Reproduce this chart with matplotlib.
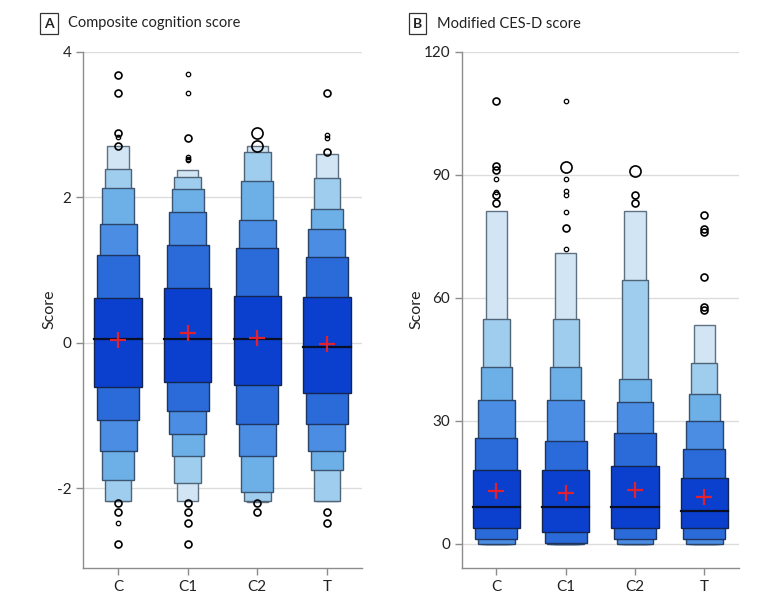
import matplotlib
matplotlib.use("Agg")
import matplotlib.pyplot as plt
from matplotlib.patches import Rectangle

plt.rcParams['font.family'] = ['Lato', 'DejaVu Sans']
plt.rcParams['axes.unicode_minus'] = False

categories = ['C', 'C1', 'C2', 'T']

# Panel A: composite cognition score (letter values, inner -> outer)
cog_upper = [[0.61, 1.20, 1.63, 2.13, 2.39, 2.70],
             [0.76, 1.34, 1.80, 2.11, 2.28, 2.38],
             [0.64, 1.30, 1.69, 2.23, 2.62, 2.70],
             [0.63, 1.18, 1.57, 1.84, 2.26, 2.60]]
cog_lower = [[-0.605, -1.06, -1.48, -1.89, -2.18, -2.18],
             [-0.545, -0.93, -1.255, -1.55, -1.92, -2.18],
             [-0.585, -1.11, -1.56, -2.05, -2.18, -2.19],
             [-0.69, -1.11, -1.48, -1.75, -2.18, -2.18]]
cog_median = [0.047, 0.047, 0.047, -0.063]
cog_mean = [0.04, 0.13, 0.06, -0.02]
cog_outliers = [[3.68, 3.43, 2.88, 2.83, 2.70, -2.20, -2.33, -2.48, -2.76],
                [3.69, 3.43, 2.81, 2.56, 2.53, 2.51, -2.20, -2.33, -2.48, -2.76],
                [2.88, 2.70, -2.20, -2.33],
                [3.43, 2.85, 2.82, 2.62, -2.33, -2.47]]
cog_outlier_counts = [[2, 2, 2, 1, 2, 2, 2, 1, 2],
                      [1, 1, 2, 1, 1, 1, 2, 2, 2, 2],
                      [3, 3, 2, 2],
                      [2, 1, 1, 2, 2, 2]]

# Panel B: modified CES-D score
cesd_upper = [[18.0, 25.9, 35.0, 43.0, 54.9, 81.2],
              [18.0, 25.0, 35.0, 43.0, 54.9, 70.8],
              [18.95, 27.0, 34.6, 40.1, 64.4, 81.2],
              [15.95, 23.0, 30.0, 36.4, 44.2, 53.4]]
cesd_lower = [[3.9, 1.07, 0.0, 0.0, 0.0, 0.0],
              [2.9, 0.15, 0.0, 0.0, 0.0, 0.0],
              [3.9, 1.07, 0.0, 0.0, 0.0, 0.0],
              [3.9, 1.07, 0.0, 0.0, 0.0, 0.0]]
cesd_median = [8.95, 8.95, 8.95, 8.0]
cesd_mean = [12.9, 12.4, 13.1, 11.3]
cesd_outliers = [[108, 92.2, 91.1, 89.0, 85.9, 85.1, 83.0],
                 [108, 92.0, 89.0, 86.1, 85.1, 81.0, 77.0, 72.0],
                 [91.0, 85.0, 83.0],
                 [80.1, 76.8, 76.1, 65.0, 57.8, 57.0]]
cesd_outlier_counts = [[2, 2, 2, 1, 1, 2, 2],
                       [1, 3, 1, 1, 1, 1, 2, 1],
                       [3, 2, 2],
                       [2, 2, 2, 2, 2, 2]]

level_colors = ['#0b40cf', '#2a6bd9', '#4a8de3', '#6cb0e7', '#9ecdee', '#d2e5f4']
edge_colors = ['#14264f', '#1d3560', '#2a4468', '#3d5570', '#506478', '#5f7080']
widths = [0.68, 0.605, 0.53, 0.455, 0.38, 0.305]
size_map = {1: 3.2, 2: 5.0, 3: 8.0}

fig = plt.figure(figsize=(7.8, 6.0), dpi=100)
axA = fig.add_axes([0.1068, 0.0538, 0.3569, 0.86])
axB = fig.add_axes([0.592, 0.0538, 0.3554, 0.86])


def draw(ax, upper, lower, median, mean, outliers, counts, ylim, yticks):
    for i, cat in enumerate(categories):
        for k in range(len(widths) - 1, -1, -1):
            w = widths[k]
            ax.add_patch(Rectangle((i - w / 2, lower[i][k]), w, upper[i][k] - lower[i][k],
                                   facecolor=level_colors[k], edgecolor=edge_colors[k],
                                   lw=1.0, zorder=3))
        w0 = widths[0]
        ax.plot([i - w0 / 2, i + w0 / 2], [median[i], median[i]], color='#0a0f25', lw=1.6, zorder=4)
        ax.plot([i], [mean[i]], marker='+', color='#e3202e', ms=12, mew=1.6, zorder=5)
        for v, c in zip(outliers[i], counts[i]):
            ax.plot([i], [v], marker='o', mfc='none', mec='black', ms=size_map[c],
                    mew=1.2 if c != 1 else 0.9, zorder=5, ls='none')
    ax.set_xlim(-0.5, 3.5)
    ax.set_ylim(*ylim)
    ax.set_xticks(range(len(categories)))
    ax.set_xticklabels(categories)
    ax.set_yticks(yticks)
    ax.set_yticklabels([str(t) for t in yticks])
    ax.yaxis.grid(True, color='#dcdcdc', lw=1.0, zorder=0)
    ax.set_axisbelow(True)
    for s in ['top', 'right']:
        ax.spines[s].set_visible(False)
    for s in ['left', 'bottom']:
        ax.spines[s].set_color('#8c8c8c')
        ax.spines[s].set_linewidth(1.0)
    ax.spines['left'].set_bounds(ylim[0], yticks[-1])
    ax.tick_params(axis='both', colors='#8c8c8c', length=5, width=1.0, labelsize=11,
                   labelcolor='#222222')
    ax.set_ylabel('Score', fontsize=11.5, color='#222222', labelpad=0)


draw(axA, cog_upper, cog_lower, cog_median, cog_mean, cog_outliers, cog_outlier_counts,
     (-3.09, 4.0), [-2, 0, 2, 4])
draw(axB, cesd_upper, cesd_lower, cesd_median, cesd_mean, cesd_outliers, cesd_outlier_counts,
     (-5.85, 120), [0, 30, 60, 90, 120])

for letter, title, x0 in [('A', 'Composite cognition score', 44 / 780),
                          ('B', 'Modified CES-D score', 413 / 780)]:
    fig.text(x0, 1 - 23.5 / 600, letter, fontsize=10, fontweight='bold', color='#222222',
             ha='left', va='center',
             bbox=dict(boxstyle='square,pad=0.3', fc='white', ec='#333333', lw=0.9))
    fig.text(x0 + 24 / 780, 1 - 23.5 / 600, title, fontsize=10.5, color='#222222',
             ha='left', va='center')

fig.savefig('out.png', dpi=100)
